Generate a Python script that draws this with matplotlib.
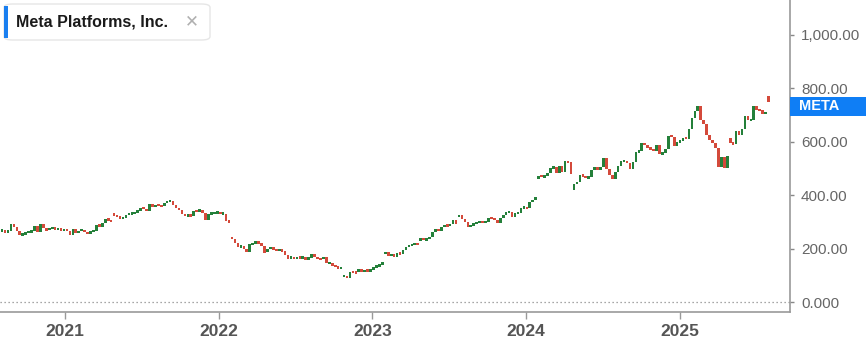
import numpy as np
import pandas as pd
import matplotlib
matplotlib.use("Agg")
import matplotlib.pyplot as plt
from matplotlib.patches import FancyBboxPatch, Rectangle

plt.rcParams['font.family'] = ['Liberation Sans', 'DejaVu Sans']

# weekly closes (Friday)
closes_2020 = [268, 261, 267, 293, 282, 266, 252, 254, 259, 264, 265, 284, 263,
               294, 276, 269, 277, 279, 273, 276, 268]
closes_2021 = [273, 268, 251, 274, 258, 268, 270, 261, 257, 264, 268, 290, 283,
               298, 312, 307, 301, 325, 319, 315, 316, 328, 331, 331, 336, 341,
               354, 350, 341, 369, 356, 363, 362, 359, 372, 377, 378, 364, 352,
               343, 330, 324, 325, 323, 341, 340, 345, 333, 306, 329, 333, 335, 336]
closes_2022 = [331, 331, 303, 301, 237, 220, 206, 210, 200, 187, 216, 221,
               224, 222, 210, 184, 200, 203, 198, 193, 195, 190, 175, 163, 170,
               160, 170, 164, 169, 159, 167, 180, 168, 161, 160, 169, 146, 147, 136,
               133, 126, 130, 99, 90, 113, 112, 111, 123, 115, 119, 118, 120]
closes_2023 = [130, 136, 139, 152, 186, 174, 179, 170, 185, 180, 195, 206, 212,
               216, 221, 212, 240, 233, 235, 245, 262, 272, 268, 281, 288, 287,
               291, 308, 294, 325, 310, 301, 283, 286, 296, 298, 300, 299, 300,
               315, 314, 308, 296, 315, 328, 335, 339, 320, 332, 334, 353, 354]
closes_2024 = [351, 374, 383, 394, 474, 469, 473, 484, 502, 505, 484, 509, 486,
               527, 523, 481, 443, 451, 477, 471, 465, 467, 494, 504, 494, 504,
               539, 498, 476, 460, 488, 510, 527, 528, 521, 500, 524, 561, 567,
               595, 589, 576, 573, 567, 589, 554, 559, 574, 623, 620, 585, 599]
closes_2025 = [604, 615, 612, 647, 689, 714, 736, 683, 668, 625, 607, 596, 576,
               505, 543, 501, 547, 597, 592, 640, 627, 647, 697, 682, 682, 733,
               719, 718, 704, 713, 751]
year_starts = ['2020-08-07', '2021-01-01', '2022-01-07', '2023-01-06',
               '2024-01-05', '2025-01-03']

# weeks that opened on an earnings gap
gap_opens = {'2021-04-30': 331, '2022-02-04': 245, '2022-04-29': 188,
             '2022-10-28': 97, '2023-02-03': 183, '2023-04-28': 229,
             '2023-07-28': 318, '2024-02-02': 460, '2024-04-26': 421,
             '2025-05-02': 613, '2025-08-01': 773}

y_ticks = [0, 200, 400, 600, 800, 1000]
y_labels = ['0.000', '200.00', '400.00', '600.00', '800.00', '1,000.00']
x_years = ['2021', '2022', '2023', '2024', '2025']

all_closes = [closes_2020, closes_2021, closes_2022, closes_2023, closes_2024, closes_2025]
fridays = []
closes = []
for start, cl in zip(year_starts, all_closes):
    fridays.extend(pd.date_range(start, periods=len(cl), freq='W-FRI'))
    closes.extend(cl)
fridays = pd.DatetimeIndex(fridays)
dates = fridays - pd.Timedelta(days=2)
closes = np.array(closes, dtype=float)
opens = np.r_[closes[0], closes[:-1]]
for d, o in gap_opens.items():
    idx = np.where(fridays == pd.Timestamp(d))[0]
    if len(idx):
        opens[idx[0]] = o

W, H = 866, 342
fig = plt.figure(figsize=(W / 100, H / 100), dpi=100)
ax = fig.add_axes([0, 30 / H, 790 / W, 1 - 30 / H])

green, red = '#24803a', '#d44a3b'
colors = [green if c >= o else red for o, c in zip(opens, closes)]
body = closes - opens
minh = 9
small = np.abs(body) < minh
heights = np.where(small, minh, body)
bottoms = np.where(small, (opens + closes) / 2 - minh / 2, opens)
ax.bar(dates, heights, bottom=bottoms, width=6.2, color=colors, linewidth=0, zorder=3)

ax.axhline(0, color='#8a8a8a', lw=0.9, ls=(0, (1, 2.2)), zorder=1)

ax.set_xlim(pd.Timestamp('2020-07-31'), pd.Timestamp('2025-09-19'))
ax.set_ylim(-37, 1131)

ax.yaxis.tick_right()
ax.set_yticks(y_ticks)
ax.set_yticklabels(y_labels)
ax.set_xticks([pd.Timestamp(y + '-01-01') for y in x_years])
ax.set_xticklabels(x_years)
ax.tick_params(axis='y', length=3, width=1, color='#888', labelcolor='#666',
               labelsize=11, pad=5)
ax.tick_params(axis='x', length=5, width=1, color='#999', labelcolor='#555',
               labelsize=12.5, pad=4)
for lab in ax.get_xticklabels():
    lab.set_fontweight('bold')

for s in ['top', 'left']:
    ax.spines[s].set_visible(False)
for s in ['right', 'bottom']:
    ax.spines[s].set_color('#9a9a9a')
    ax.spines[s].set_linewidth(1.2)


def px(x, y):
    return x / W, 1 - y / H


# name tag at top left
x0, y0 = px(4, 40)
fig.patches.append(FancyBboxPatch((x0, y0), 206 / W, 36 / H,
                                  boxstyle='round,pad=0,rounding_size=0.01',
                                  transform=fig.transFigure, facecolor='white',
                                  edgecolor='#e6e6e6', lw=1, zorder=5))
bx, by = px(4, 38)
fig.patches.append(Rectangle((bx, by), 4 / W, 32 / H, transform=fig.transFigure,
                             facecolor='#1a7ff0', edgecolor='none', zorder=6))
tx, ty = px(16, 22)
fig.text(tx, ty, 'Meta Platforms, Inc.', fontsize=11.5, fontweight='bold',
         color='#1a1a1a', va='center', ha='left', zorder=7)
cx, cy = px(192, 22)
fig.text(cx, cy, '\u2715', fontsize=12, color='#b0b0b0', va='center',
         ha='center', zorder=7)

# last price tag on the right axis
rx, ry = px(790, 116)
fig.patches.append(Rectangle((rx, ry), 76 / W, 19 / H, transform=fig.transFigure,
                             facecolor='#0f7ef5', edgecolor='none', zorder=8))
mx, my = px(799, 106.5)
fig.text(mx, my, 'META', fontsize=10.5, fontweight='bold', color='white',
         va='center', ha='left', zorder=9)

fig.savefig('out.png', dpi=100, facecolor='white')
